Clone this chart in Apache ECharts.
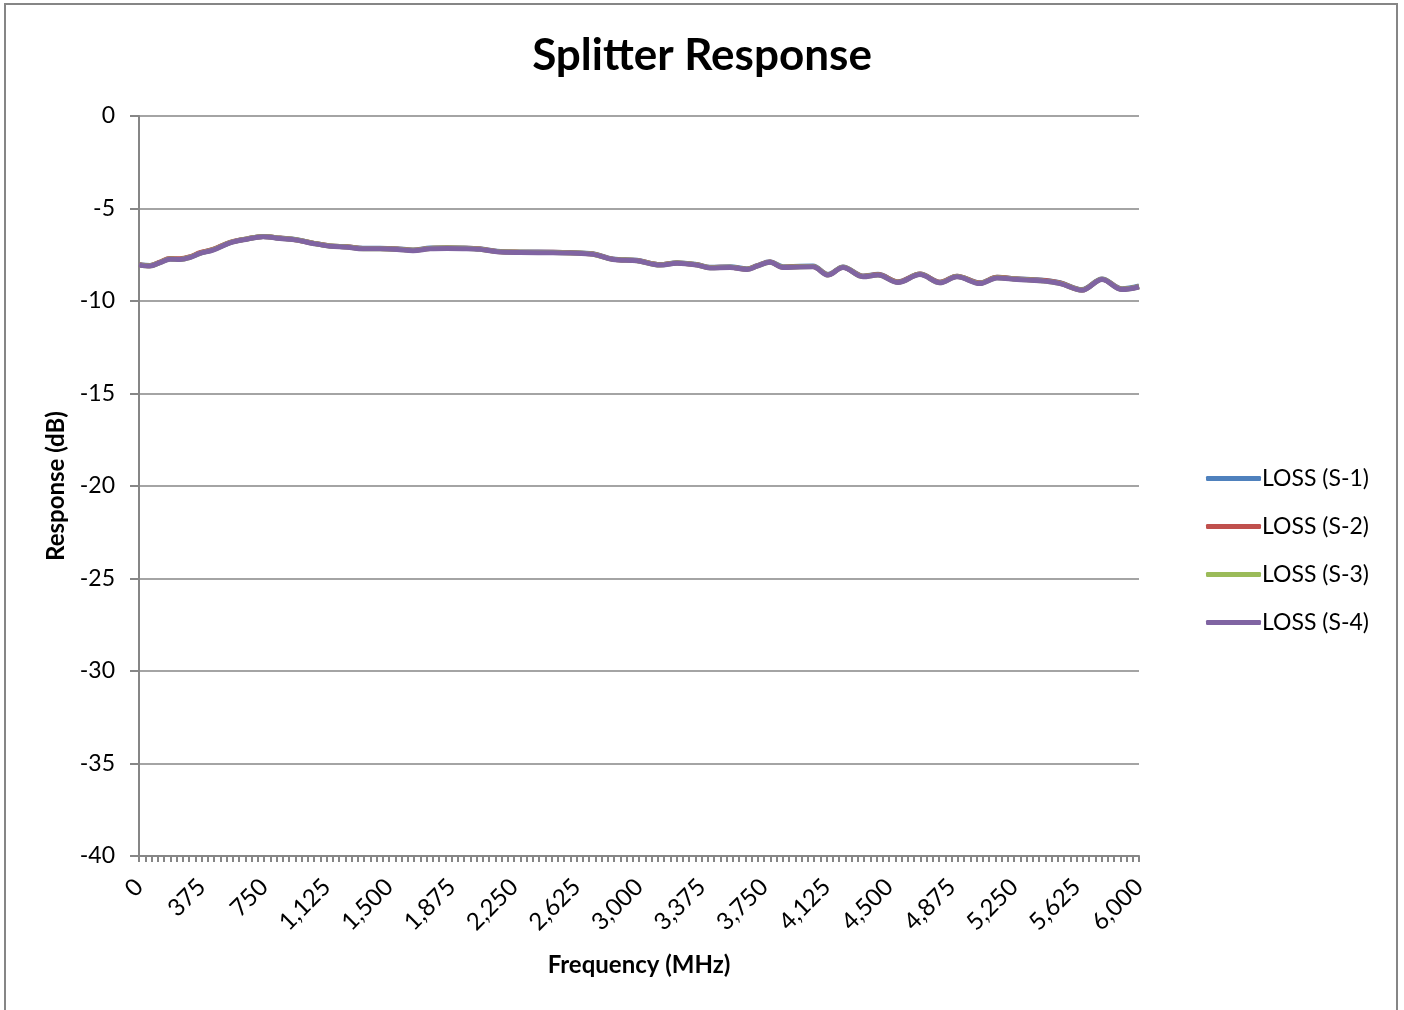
<!DOCTYPE html>
<html><head><meta charset="utf-8">
<script src="https://cdn.jsdelivr.net/npm/echarts@6/dist/echarts.min.js"></script>
<style>html,body{margin:0;padding:0;background:#fff}#c{width:1404px;height:1010px}</style>
</head><body><div id="c"></div>
<script>
const freq = [0,66,126,186,246,306,366,444,546,648,744,846,948,1044,1146,1248,1344,1446,1548,1644,1746,1848,1944,2046,2148,2286,2484,2586,2724,2844,2988,3126,3228,3348,3426,3546,3648,3708,3786,3864,3966,4044,4134,4224,4344,4434,4554,4686,4806,4908,5046,5148,5268,5406,5526,5658,5778,5898,6000];
const s1 = [-8.03,-8.08,-7.91,-7.72,-7.74,-7.62,-7.41,-7.22,-6.84,-6.64,-6.51,-6.60,-6.69,-6.87,-7.02,-7.07,-7.15,-7.15,-7.18,-7.24,-7.14,-7.12,-7.13,-7.18,-7.31,-7.35,-7.36,-7.38,-7.45,-7.73,-7.80,-8.03,-7.93,-8.03,-8.17,-8.15,-8.26,-8.09,-7.88,-8.15,-8.12,-8.11,-8.56,-8.16,-8.65,-8.56,-8.96,-8.54,-8.98,-8.66,-9.02,-8.72,-8.80,-8.86,-9.01,-9.38,-8.81,-9.34,-9.19];
const s2 = [-8.04,-8.09,-7.90,-7.70,-7.72,-7.61,-7.39,-7.21,-6.83,-6.64,-6.51,-6.60,-6.70,-6.87,-7.02,-7.07,-7.16,-7.16,-7.19,-7.25,-7.16,-7.14,-7.15,-7.19,-7.32,-7.36,-7.37,-7.39,-7.46,-7.74,-7.81,-8.04,-7.94,-8.04,-8.19,-8.17,-8.28,-8.10,-7.89,-8.17,-8.14,-8.13,-8.58,-8.17,-8.66,-8.57,-8.97,-8.54,-8.99,-8.66,-9.03,-8.72,-8.81,-8.88,-9.03,-9.40,-8.82,-9.36,-9.22];
const s3 = [-8.05,-8.10,-7.92,-7.73,-7.75,-7.64,-7.42,-7.23,-6.85,-6.65,-6.52,-6.61,-6.70,-6.88,-7.03,-7.08,-7.17,-7.17,-7.20,-7.26,-7.16,-7.14,-7.15,-7.20,-7.33,-7.37,-7.38,-7.40,-7.47,-7.75,-7.82,-8.05,-7.95,-8.05,-8.20,-8.18,-8.29,-8.11,-7.90,-8.18,-8.15,-8.14,-8.59,-8.18,-8.68,-8.59,-8.99,-8.56,-9.01,-8.68,-9.05,-8.74,-8.83,-8.90,-9.05,-9.41,-8.83,-9.37,-9.23];
const s4 = [-8.06,-8.11,-7.93,-7.74,-7.76,-7.65,-7.43,-7.25,-6.86,-6.66,-6.53,-6.62,-6.71,-6.89,-7.04,-7.09,-7.18,-7.18,-7.21,-7.28,-7.18,-7.16,-7.17,-7.21,-7.34,-7.38,-7.39,-7.41,-7.48,-7.76,-7.83,-8.06,-7.96,-8.06,-8.21,-8.19,-8.30,-8.12,-7.91,-8.19,-8.16,-8.15,-8.60,-8.19,-8.69,-8.60,-9.00,-8.57,-9.02,-8.69,-9.06,-8.75,-8.84,-8.91,-9.06,-9.42,-8.84,-9.38,-9.24];
const names = ['LOSS (S-1)','LOSS (S-2)','LOSS (S-3)','LOSS (S-4)'];
const colors = ['#4F81BD','#C0504D','#9BBB59','#8064A2'];
const yTicks = [0,-5,-10,-15,-20,-25,-30,-35,-40];

const font = 'Lato, "Open Sans", sans-serif';
const all = [s1,s2,s3,s4];
const chart = echarts.init(document.getElementById('c'), null, {renderer:'canvas'});
const gray = '#868686';
chart.setOption({
  animation:false,
  textStyle:{fontFamily:font},
  graphic:[{type:'rect',shape:{x:5,y:4,width:1392,height:1015},style:{fill:'none',stroke:gray,lineWidth:2},silent:true}],
  title:{text:'Splitter Response',left:'center',top:29,textStyle:{fontFamily:font,fontSize:44,fontWeight:'bold',color:'#000'}},
  legend:{orient:'vertical',left:1201,top:462,itemGap:25,itemWidth:55,itemHeight:5,icon:'roundRect',
    textStyle:{fontFamily:font,fontSize:23,color:'#000',padding:[0,0,0,-4]},
    data:names.map((n,i)=>({name:n,itemStyle:{color:colors[i]}}))},
  grid:{left:139,top:116,width:1000,height:740,containLabel:false},
  xAxis:{type:'value',min:0,max:6000,interval:375,
    name:'Frequency (MHz)',nameLocation:'middle',nameGap:97,
    nameTextStyle:{fontFamily:font,fontSize:24,fontWeight:'bold',color:'#000'},
    axisLine:{onZero:false,lineStyle:{color:gray,width:2}},
    axisTick:{show:true,length:6,lineStyle:{color:gray,width:2}},
    minorTick:{show:true,splitNumber:10,length:6,lineStyle:{color:gray,width:2}},
    splitLine:{show:false},
    axisLabel:{rotate:45,fontFamily:font,fontSize:24,color:'#000',margin:27,
      formatter:v=>v.toLocaleString('en-US')}},
  yAxis:{type:'value',min:-40,max:0,interval:5,
    name:'Response (dB)',nameLocation:'middle',nameGap:71,nameRotate:90,
    nameTextStyle:{fontFamily:font,fontSize:24,fontWeight:'bold',color:'#000'},
    axisLine:{show:true,lineStyle:{color:gray,width:2}},
    axisTick:{show:true,length:9,lineStyle:{color:gray,width:2}},
    splitLine:{show:true,lineStyle:{color:gray,width:1.5}},
    axisLabel:{fontFamily:font,fontSize:23,color:'#000',margin:24}},
  series:all.map((s,i)=>({name:names[i],type:'line',smooth:0.35,showSymbol:false,
    data:freq.map((f,j)=>[f,s[j]]),
    lineStyle:{color:colors[i],width:5},itemStyle:{color:colors[i]}}))
});
</script></body></html>
